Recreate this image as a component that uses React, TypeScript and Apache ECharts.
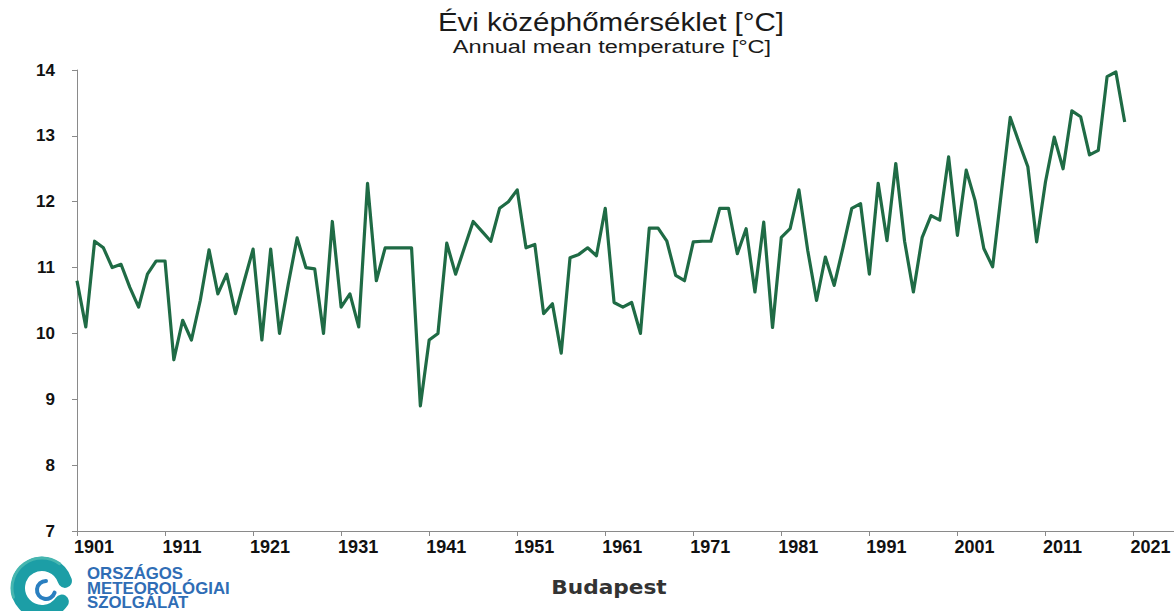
import React, { useEffect, useRef } from 'react';
import * as echarts from 'echarts';

const START_YEAR = 1901;

// Annual mean temperature, Budapest, 1901–2020 (°C)
const temps = [
  10.8, 10.1, 11.4, 11.3, 11.0, 11.05, 10.7, 10.4, 10.9, 11.1,
  11.1, 9.6, 10.2, 9.9, 10.5, 11.27, 10.6, 10.9, 10.3, 10.8,
  11.28, 9.9, 11.28, 10.0, 10.75, 11.45, 11.0, 10.98, 10.0, 11.7,
  10.4, 10.6, 10.1, 12.28, 10.8, 11.3, 11.3, 11.3, 11.3, 8.9,
  9.9, 10.0, 11.37, 10.9, 11.3, 11.7, 11.55, 11.4, 11.9, 12.0,
  12.18, 11.3, 11.35, 10.3, 10.45, 9.7, 11.15, 11.2, 11.3, 11.18,
  11.9, 10.47, 10.4, 10.47, 10.0, 11.6, 11.6, 11.4, 10.88, 10.8,
  11.39, 11.4, 11.4, 11.9, 11.9, 11.21, 11.59, 10.63, 11.69, 10.09,
  11.46, 11.59, 12.18, 11.26, 10.5, 11.16, 10.73, 11.3, 11.9, 11.97,
  10.9, 12.28, 11.41, 12.58, 11.4, 10.63, 11.46, 11.79, 11.72, 12.68,
  11.49, 12.48, 12.02, 11.29, 11.01, 12.15, 13.28, 12.9, 12.53, 11.39,
  12.3, 12.98, 12.5, 13.38, 13.29, 12.71, 12.78, 13.9, 13.97, 13.21,
];

const xTickYears = [1901, 1911, 1921, 1931, 1941, 1951, 1961, 1971, 1981, 1991, 2001, 2011, 2021];
const yMin = 7;
const yMax = 14;

const titleHu = 'Évi középhőmérséklet [°C]';
const titleEn = 'Annual mean temperature [°C]';
const axisName = 'Budapest';
const logoLines = ['ORSZÁGOS', 'METEOROLÓGIAI', 'SZOLGÁLAT'];

export default function App() {
  const ref = useRef<HTMLDivElement>(null);

  useEffect(() => {
    if (!ref.current) return;
    const chart = echarts.init(ref.current, null, { renderer: 'svg' });
    const data = temps.map((v, i) => [i, v]);
    const tickOffsets = xTickYears.map((y) => y - START_YEAR);
    const axisGrey = '#8a8a8a';
    const green = '#1f6b45';

    chart.setOption({
      animation: false,
      backgroundColor: '#ffffff',
      grid: { left: 77, right: 0, top: 70, bottom: 80, containLabel: false, outerBoundsMode: 'none' },
      xAxis: {
        type: 'value',
        min: 0,
        max: 124.6,
        interval: 10,
        axisLine: { show: true, lineStyle: { color: axisGrey, width: 1 } },
        axisTick: { show: true, length: 5, customValues: tickOffsets, lineStyle: { color: axisGrey } },
        axisLabel: {
          customValues: tickOffsets,
          formatter: (v: number) => String(START_YEAR + Math.round(v)),
          fontFamily: "'Liberation Sans', Arial, sans-serif",
          fontWeight: 'bold',
          fontSize: 18,
          color: '#111',
          margin: 7,
          padding: [0, 0, 0, 34],
        },
        splitLine: { show: false },
      },
      yAxis: {
        type: 'value',
        min: yMin,
        max: yMax,
        interval: 1,
        axisLine: { show: true, lineStyle: { color: axisGrey, width: 1 } },
        axisTick: { show: true, length: 5, lineStyle: { color: axisGrey } },
        axisLabel: {
          fontFamily: "'Liberation Sans', Arial, sans-serif",
          fontWeight: 'bold',
          fontSize: 17,
          color: '#111',
          margin: 22,
        },
        splitLine: { show: false },
      },
      series: [
        {
          type: 'line',
          data,
          symbol: 'none',
          showSymbol: false,
          lineStyle: { color: green, width: 3.2, join: 'round' },
          itemStyle: { color: green },
        },
      ],
      graphic: [
        {
          type: 'text',
          x: 611,
          y: 22,
          scaleX: 1.18,
          style: {
            text: titleHu,
            font: "normal 25px 'Liberation Sans', Arial, sans-serif",
            fill: '#1a1a1a',
            align: 'center',
            verticalAlign: 'middle',
          },
        },
        {
          type: 'text',
          x: 612,
          y: 47,
          scaleX: 1.24,
          style: {
            text: titleEn,
            font: "normal 19px 'Liberation Sans', Arial, sans-serif",
            fill: '#1a1a1a',
            align: 'center',
            verticalAlign: 'middle',
          },
        },
        {
          type: 'text',
          x: 609,
          y: 587,
          scaleX: 1.14,
          style: {
            text: axisName,
            font: "bold 19px 'DejaVu Sans', Verdana, sans-serif",
            fill: '#333',
            align: 'center',
            verticalAlign: 'middle',
          },
        },
        {
          type: 'arc',
          shape: { cx: 42, cy: 588, r: 24, startAngle: 0.6, endAngle: Math.PI * 2 - 0.3, clockwise: true },
          style: { stroke: '#1c9ea6', lineWidth: 14, fill: 'none', lineCap: 'round' },
        },
        {
          type: 'arc',
          shape: { cx: 42, cy: 588, r: 30, startAngle: Math.PI * 0.9, endAngle: Math.PI * 1.7, clockwise: true },
          style: { stroke: '#46b6b0', lineWidth: 3, fill: 'none', lineCap: 'round' },
        },
        {
          type: 'arc',
          shape: { cx: 46, cy: 590, r: 9, startAngle: 0.3, endAngle: Math.PI * 1.5, clockwise: true },
          style: { stroke: '#2a7fc0', lineWidth: 4, fill: 'none', lineCap: 'round' },
        },
        {
          type: 'text',
          x: 87,
          y: 566,
          scaleX: 1.05,
          style: {
            text: logoLines.join('\n'),
            font: "bold 16px 'Liberation Sans', Arial, sans-serif",
            lineHeight: 14.5,
            fill: '#2f6db5',
            align: 'left',
            verticalAlign: 'top',
          },
        },
      ],
    });

    return () => chart.dispose();
  }, []);

  return (
    <div
      ref={ref}
      style={{ position: 'fixed', left: 0, top: 0, width: 1174, height: 611 }}
    />
  );
}
